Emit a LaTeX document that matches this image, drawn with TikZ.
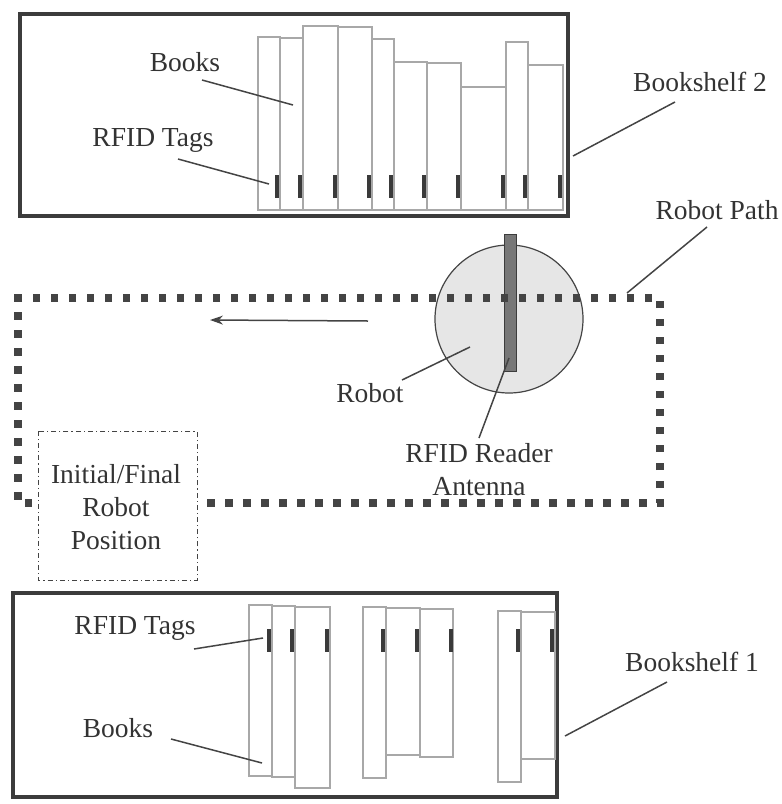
\documentclass[tikz,border=0pt]{standalone}
\usepackage{fontspec}
\setmainfont{Liberation Serif}
\newfontfamily\lblfont{Liberation Serif}
\usetikzlibrary{arrows.meta}
\definecolor{shelfc}{HTML}{3C3C3C}
\definecolor{bookc}{HTML}{A8A8A8}
\definecolor{tagc}{HTML}{3A3A3A}
\definecolor{txtc}{HTML}{333333}
\definecolor{linec}{HTML}{444444}
\definecolor{robotc}{HTML}{E6E6E6}
\definecolor{antc}{HTML}{777777}
\definecolor{pathc}{HTML}{444444}
\begin{document}
\begin{tikzpicture}[x=1pt,y=-1pt,
  shelf/.style={draw=shelfc, line width=4.5pt},
  book/.style={draw=bookc, line width=1.2pt, fill=white},
  tagbar/.style={fill=tagc, draw=none},
  lbl/.style={text=txtc, font=\lblfont\fontsize{27.5}{33}\selectfont, inner sep=0pt, align=center},
  lead/.style={draw=linec, line width=1.5pt},
  robotpath/.style={draw=pathc, line width=7.5pt, dash pattern=on 7.5pt off 10.5pt},
  startbox/.style={draw=linec, line width=1pt, dash pattern=on 5pt off 3pt on 1.2pt off 3pt}
]
\useasboundingbox (0,0) rectangle (782,804);

% ---------------- Bookshelf 2 (top) ----------------
\draw[shelf] (20,14) rectangle (568,216);
\foreach \a/\b/\t in {258/280/37, 280/303/38, 303/338/26, 338/372/27, 372/394/39,
                      394/427/62, 427/461/63, 461/506/87, 506/528/42, 528/563/65}
  \draw[book] (\a,\t) rectangle (\b,210);
\foreach \x in {277,300,335,369,391,424,458,503,525,560}
  \fill[tagbar] (\x-2,175) rectangle (\x+2,198);

\node[lbl] (books2) at (185,62) {Books};
\node[lbl] (tags2) at (153,140) {RFID Tags};
\node[lbl] (shelf2) at (700,82) {Bookshelf 2};
\coordinate (books2a) at (202,80);  \coordinate (books2b) at (293,105);
\coordinate (tags2a) at (178,159);  \coordinate (tags2b) at (269,184);
\coordinate (shelf2a) at (675,102); \coordinate (shelf2b) at (573,156);
\draw[lead] (books2a) -- (books2b);
\draw[lead] (tags2a) -- (tags2b);
\draw[lead] (shelf2a) -- (shelf2b);

% ---------------- Robot ----------------
\node[circle, draw=linec, line width=1.2pt, fill=robotc, minimum size=148pt, inner sep=0pt] (robot) at (509,319) {};
\draw[draw=shelfc, line width=1pt, fill=antc] (504,234) rectangle (516,371);
\coordinate (antenna) at (509,358);

% ---------------- Robot path ----------------
\draw[robotpath] (207,503) -- (660,503) -- (660,298) -- (18,298) -- (18,503) -- (38,503);

\coordinate (arrS) at (368,321);
\coordinate (arrE) at (210,320);
\draw[linec, line width=1.5pt, -{Stealth[length=13pt,width=9pt]}] (arrS) -- (arrE);

\node[lbl] (pathlbl) at (717,210) {Robot Path};
\coordinate (patha) at (707,227); \coordinate (pathb) at (627,293);
\draw[lead] (patha) -- (pathb);

\node[lbl] (robotlbl) at (370,393) {Robot};
\coordinate (robota) at (402,380); \coordinate (robotb) at (470,347);
\draw[lead] (robota) -- (robotb);

\node[lbl] (antlbl) at (479,470) {RFID Reader\\Antenna};
\coordinate (anta) at (479,438);
\draw[lead] (anta) -- (antenna);

% ---------------- Initial/Final position ----------------
\draw[startbox] (38,431) rectangle (197,580);
\node[lbl] (start) at (116,507) {Initial/Final\\Robot\\Position};

% ---------------- Bookshelf 1 (bottom) ----------------
\draw[shelf] (13,593) rectangle (557,797);
\foreach \a/\b/\t/\u in {249/272/605/776, 272/295/606/777, 295/330/607/788,
                         363/386/607/778, 386/420/608/755, 420/453/609/757,
                         498/521/611/782, 521/555/612/759}
  \draw[book] (\a,\t) rectangle (\b,\u);
\foreach \x in {269,292,327,383,417,451,518,552}
  \fill[tagbar] (\x-2,629) rectangle (\x+2,652);

\node[lbl] (tags1) at (135,628) {RFID Tags};
\node[lbl] (books1) at (118,728) {Books};
\node[lbl] (shelf1) at (692,662) {Bookshelf 1};
\coordinate (tags1a) at (194,649);  \coordinate (tags1b) at (263,638);
\coordinate (books1a) at (171,739); \coordinate (books1b) at (262,763);
\coordinate (shelf1a) at (667,682); \coordinate (shelf1b) at (565,736);
\draw[lead] (tags1a) -- (tags1b);
\draw[lead] (books1a) -- (books1b);
\draw[lead] (shelf1a) -- (shelf1b);
\end{tikzpicture}
\end{document}
